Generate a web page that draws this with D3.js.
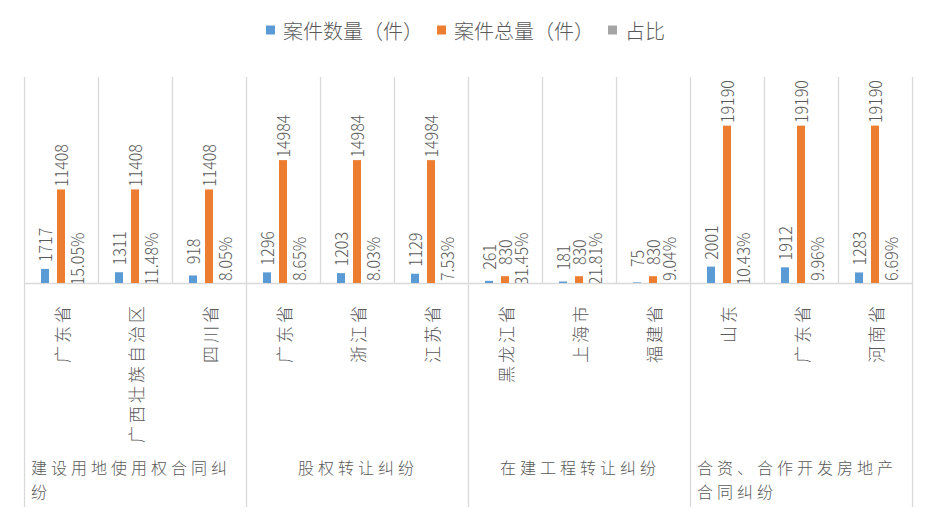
<!DOCTYPE html>
<html>
<head>
<meta charset="utf-8">
<script src="https://cdn.jsdelivr.net/npm/d3@7/dist/d3.min.js"></script>
<style>
  body { margin: 0; background: #fff; }
  text { font-family: "Noto Sans CJK SC", "Noto Sans", sans-serif; fill: #595959; font-weight: 300; }
</style>
</head>
<body>
<div id="chart"></div>
<script>
// ---------- data ----------
const groups = ["建设用地使用权合同纠纷", "股权转让纠纷", "在建工程转让纠纷", "合资、合作开发房地产合同纠纷"];
const provinces = ["广东省", "广西壮族自治区", "四川省",
                   "广东省", "浙江省", "江苏省",
                   "黑龙江省", "上海市", "福建省",
                   "山东", "广东省", "河南省"];
const groupOf = [0, 0, 0, 1, 1, 1, 2, 2, 2, 3, 3, 3];
const counts = [1717, 1311, 918, 1296, 1203, 1129, 261, 181, 75, 2001, 1912, 1283];
const totals = [11408, 11408, 11408, 14984, 14984, 14984, 830, 830, 830, 19190, 19190, 19190];
const ratios = [15.05, 11.48, 8.05, 8.65, 8.03, 7.53, 31.45, 21.81, 9.04, 10.43, 9.96, 6.69]; // %
const seriesNames = ["案件数量（件）", "案件总量（件）", "占比"];
const colors = ["#5b9bd5", "#ed7d31", "#a5a5a5"];

// ---------- layout ----------
const W = 931, H = 514;
const plot = { left: 24, right: 912, top: 78, bottom: 283 };
const axisBottom = 507;
const gridColor = "#d9d9d9";

const svg = d3.select("#chart").append("svg")
  .attr("width", W).attr("height", H);

const idx = d3.range(provinces.length);

const x0 = d3.scaleBand().domain(idx).range([plot.left, plot.right]);
const x1 = d3.scaleBand().domain([0, 1, 2]).range([0, x0.bandwidth()])
  .paddingInner(0.5).paddingOuter(1.0625);
const xg = d3.scaleBand().domain(d3.range(groups.length)).range([plot.left, plot.right]);
const y = d3.scaleLinear().domain([0, 25000]).range([plot.bottom, plot.top]);

// table built from the arrays
const rows = idx.map(i => ({
  i,
  vals: [counts[i], totals[i], ratios[i] / 100],
  labels: [String(counts[i]), String(totals[i]), ratios[i].toFixed(2) + "%"]
}));

svg.append("defs").append("clipPath").attr("id", "plotClip")
  .append("rect")
  .attr("x", plot.left).attr("y", 0)
  .attr("width", plot.right - plot.left).attr("height", plot.bottom);

// ---------- grid / axis lines ----------
const catEdges = idx.map(i => x0(i)).concat([x0(idx.length - 1) + x0.step()]);
svg.append("g").selectAll("line").data(catEdges).join("line")
  .attr("x1", d => d + 0.5).attr("x2", d => d + 0.5)
  .attr("y1", plot.top - 1).attr("y2", plot.bottom)
  .attr("stroke", gridColor).attr("stroke-width", 1.3);

const groupEdges = d3.range(groups.length).map(g => xg(g)).concat([plot.right]);
svg.append("g").selectAll("line").data(groupEdges).join("line")
  .attr("x1", d => d + 0.5).attr("x2", d => d + 0.5)
  .attr("y1", plot.bottom).attr("y2", axisBottom)
  .attr("stroke", gridColor).attr("stroke-width", 1.3);

svg.append("line")
  .attr("x1", plot.left).attr("x2", plot.right + 1)
  .attr("y1", plot.bottom + 0.5).attr("y2", plot.bottom + 0.5)
  .attr("stroke", gridColor).attr("stroke-width", 1.3);

// ---------- bars ----------
const cat = svg.append("g").selectAll("g.cat").data(rows).join("g")
  .attr("class", "cat")
  .attr("transform", d => `translate(${x0(d.i)},0)`);

cat.selectAll("rect").data(d => d.vals.map((v, s) => ({ v, s }))).join("rect")
  .attr("x", d => x1(d.s))
  .attr("width", x1.bandwidth())
  .attr("y", d => y(d.v))
  .attr("height", d => y(0) - y(d.v))
  .attr("fill", d => colors[d.s]);

// ---------- value labels (rotated, centred a fixed distance above the bar) ----------
const labelG = svg.append("g").attr("clip-path", "url(#plotClip)");
rows.forEach(r => {
  r.vals.forEach((v, s) => {
    const cx = x0(r.i) + x1(s) + x1.bandwidth() / 2;
    labelG.append("text")
      .attr("transform", `translate(${cx},${y(v) - 24}) scale(1.1,1) rotate(-90)`)
      .attr("text-anchor", "middle")
      .attr("dominant-baseline", "central")
      .style("font-size", "16px")
      .text(r.labels[s]);
  });
});

// ---------- category labels ----------
svg.append("g").selectAll("text").data(rows).join("text")
  .attr("transform", d => `translate(${x0(d.i) + x0.bandwidth() / 2},${plot.bottom + 20}) rotate(-90)`)
  .attr("text-anchor", "end")
  .attr("dominant-baseline", "central")
  .style("font-size", "17px")
  .style("letter-spacing", "3px")
  .text(d => provinces[d.i]);

// ---------- group labels ----------
const gLab = svg.append("g");
const gFont = "16px", gSpace = "4px", lineH = 23.5;
groups.forEach((name, g) => {
  const left = xg(g), bw = xg.bandwidth();
  const probe = gLab.append("text").style("font-size", gFont).style("letter-spacing", gSpace);
  const avail = bw - 14;
  probe.text(name);
  if (probe.node().getComputedTextLength() <= avail) {
    probe.attr("x", left + bw / 2 + 1).attr("y", 467)
      .attr("text-anchor", "middle").attr("dominant-baseline", "central");
    return;
  }
  // wrap characters into lines, left aligned
  const lines = [];
  let cur = "";
  Array.from(name).forEach(c => {
    probe.text(cur + c);
    if (probe.node().getComputedTextLength() > avail && cur) { lines.push(cur); cur = c; }
    else cur += c;
  });
  lines.push(cur);
  probe.remove();
  lines.forEach((ln, k) => {
    gLab.append("text")
      .style("font-size", gFont).style("letter-spacing", gSpace)
      .attr("dominant-baseline", "central")
      .attr("x", left + 7).attr("y", 467 + k * lineH)
      .text(ln);
  });
});

// ---------- legend ----------
const legend = svg.append("g");
let lx = 0;
seriesNames.forEach((name, s) => {
  const item = legend.append("g").attr("transform", `translate(${lx},0)`);
  item.append("rect").attr("x", 0).attr("y", -4.5).attr("width", 9).attr("height", 9).attr("fill", colors[s]);
  const t = item.append("text").attr("x", 17).attr("y", 0)
    .attr("dominant-baseline", "central")
    .style("font-size", "20px")
    .text(name);
  lx += 17 + t.node().getComputedTextLength() + 14;
});
const legW = lx - 14;
legend.attr("transform", `translate(${(W - legW) / 2},30)`);
</script>
</body>
</html>
